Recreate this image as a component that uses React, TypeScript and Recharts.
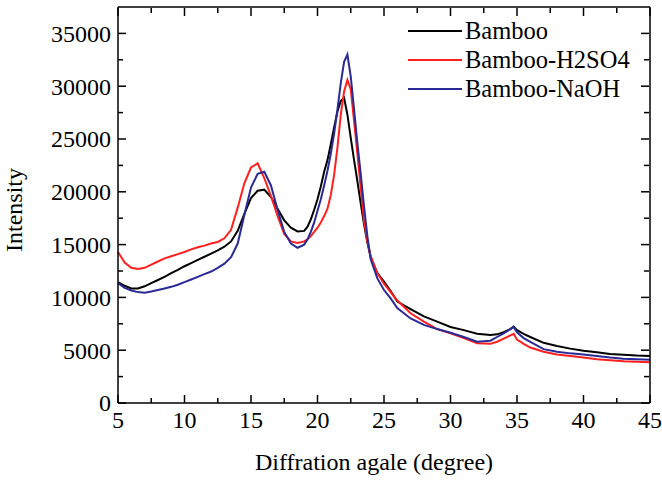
import React from "react";
import {
  LineChart,
  Line,
  XAxis,
  YAxis,
} from "recharts";

// diffraction angle (degree)
const angles = [
  5, 5.5, 6, 6.5, 7, 7.5, 8, 8.5, 9, 9.5, 10, 10.5, 11, 11.5, 12, 12.5, 13, 13.5,
  14, 14.5, 15, 15.5, 16, 16.5, 17, 17.5, 18, 18.5, 19, 19.25, 19.5, 19.75, 20,
  20.25, 20.5, 20.75, 21, 21.25, 21.5, 21.75, 22, 22.25, 22.5, 22.75, 23, 23.25,
  23.5, 23.75, 24, 24.5, 25, 25.5, 26, 27, 28, 29, 30, 31, 32, 33, 33.5, 34, 34.5,
  34.75, 35, 35.5, 36, 37, 38, 39, 40, 41, 42, 43, 44, 45,
];

const bamboo = [
  11440, 11100, 10850, 10850, 11050, 11350, 11650, 11950, 12300, 12600, 12950,
  13250, 13550, 13850, 14150, 14450, 14800, 15300, 16300, 17900, 19400, 20100,
  20200, 19500, 18400, 17300, 16600, 16250, 16300, 16700, 17400, 18300, 19300,
  20500, 21900, 23000, 24500, 26100, 27600, 28600, 28900, 27300, 25100, 23000,
  21000, 18900, 16900, 15200, 13800, 12300, 11500, 10600, 9600, 8900, 8200, 7700,
  7200, 6900, 6550, 6450, 6500, 6700, 7000, 7230, 6900, 6550, 6250, 5700, 5400,
  5150, 4950, 4800, 4650, 4580, 4500, 4450,
];

const bambooH2SO4 = [
  14300, 13300, 12800, 12700, 12800, 13100, 13400, 13700, 13900, 14100, 14300,
  14550, 14750, 14900, 15100, 15250, 15600, 16400, 18500, 20800, 22300, 22700,
  21300, 19600, 17700, 16000, 15300, 15150, 15300, 15500, 15800, 16200, 16600,
  17100, 17700, 18400, 19700, 21600, 24200, 27300, 29500, 30600, 29700, 26700,
  23600, 20400, 17200, 15300, 13900, 12300, 11300, 10500, 9700, 8500, 7700, 7000,
  6600, 6150, 5650, 5600, 5800, 6100, 6400, 6550, 6000, 5600, 5250, 4850, 4600,
  4450, 4300, 4150, 4050, 3950, 3900, 3850,
];

const bambooNaOH = [
  11350, 10900, 10650, 10500, 10450, 10550, 10700, 10850, 11000, 11200, 11450,
  11700, 11950, 12200, 12450, 12800, 13200, 13800, 15100, 17800, 20400, 21700,
  21900, 20600, 18300, 16200, 15100, 14700, 15000, 15500, 16200, 17100, 18200,
  19300, 20600, 22000, 23600, 25500, 27800, 30300, 32300, 33000, 30900, 27800,
  24600, 21700, 18600, 15800, 13600, 11800, 10700, 9900, 9000, 8000, 7400, 7000,
  6650, 6250, 5800, 5900, 6250, 6600, 7000, 7200, 6700, 6150, 5800, 5100, 4850,
  4700, 4600, 4450, 4300, 4200, 4150, 4100,
];

const xTicks = [5, 7.5, 10, 12.5, 15, 17.5, 20, 22.5, 25, 27.5, 30, 32.5, 35, 37.5, 40, 42.5, 45];
const yTicks = [
  0, 2500, 5000, 7500, 10000, 12500, 15000, 17500, 20000, 22500, 25000, 27500,
  30000, 32500, 35000,
];

const seriesNames = ["Bamboo", "Bamboo-H2SO4", "Bamboo-NaOH"];
const seriesColors = ["#000000", "#ff1f1f", "#2a2a96"];

const data = angles.map((a, i) => ({
  angle: a,
  bamboo: bamboo[i],
  h2so4: bambooH2SO4[i],
  naoh: bambooNaOH[i],
}));

const FONT = "Liberation Serif, Times New Roman, serif";
const MARGIN = 7;

const BottomTick = (props: any) => {
  const { x, y, payload } = props;
  const major = payload.value % 5 === 0;
  const base = y - MARGIN;
  return (
    <g>
      <line x1={x} x2={x} y1={base} y2={base - (major ? 8 : 5)} stroke="#000" strokeWidth={1.5} />
      {major && (
        <text x={x} y={y} dy="0.75em" textAnchor="middle" fontFamily={FONT} fontSize={24} fill="#000">
          {payload.value}
        </text>
      )}
    </g>
  );
};

// frame ticks (top / right) point into the plot
const TopTick = (props: any) => {
  const { x, y, payload } = props;
  const major = payload.value % 5 === 0;
  return <line x1={x} x2={x} y1={y + 1} y2={y + 1 + (major ? 8 : 5)} stroke="#000" strokeWidth={1.5} />;
};

const LeftTick = (props: any) => {
  const { x, y, payload } = props;
  const major = payload.value % 5000 === 0;
  const base = x + MARGIN;
  return (
    <g>
      <line x1={base} x2={base + (major ? 8 : 5)} y1={y} y2={y} stroke="#000" strokeWidth={1.5} />
      {major && (
        <text x={x} y={y} dy="0.35em" textAnchor="end" fontFamily={FONT} fontSize={24} fill="#000">
          {payload.value}
        </text>
      )}
    </g>
  );
};

const RightTick = (props: any) => {
  const { x, y, payload } = props;
  const major = payload.value % 5000 === 0;
  return <line x1={x - 1} x2={x - 1 - (major ? 8 : 5)} y1={y} y2={y} stroke="#000" strokeWidth={1.5} />;
};

const LegendBox = () => (
  <div
    style={{
      position: "absolute",
      left: 408,
      top: 16,
      fontFamily: FONT,
      fontSize: 24.5,
      lineHeight: "29px",
      color: "#000",
    }}
  >
    {seriesNames.map((name, i) => (
      <div key={name} style={{ display: "flex", alignItems: "center", whiteSpace: "nowrap" }}>
        <span style={{ display: "inline-block", width: 54, height: 2, background: seriesColors[i], marginRight: 3 }} />
        <span>{name}</span>
      </div>
    ))}
  </div>
);

export default function App() {
  return (
    <div style={{ position: "absolute", left: 0, top: 0, width: 662, height: 481, background: "#fff" }}>
      <LineChart width={662} height={481} data={data} margin={{ top: 6, right: 11, left: 0, bottom: 0 }}>
        <XAxis
          xAxisId="top"
          orientation="top"
          dataKey="angle"
          type="number"
          domain={[5, 45]}
          ticks={xTicks}
          interval={0}
          height={1}
          tickSize={0}
          tickMargin={0}
          tick={<TopTick />}
          axisLine={{ stroke: "#000", strokeWidth: 1.5 }}
        />
        <XAxis
          dataKey="angle"
          type="number"
          domain={[5, 45]}
          ticks={xTicks}
          interval={0}
          height={78}
          tickSize={0}
          tickMargin={MARGIN}
          tick={<BottomTick />}
          axisLine={{ stroke: "#000", strokeWidth: 1.5 }}
          label={{
            content: (p: any) => (
              <text
                x={p.viewBox.x + p.viewBox.width / 2 - 10}
                y={p.viewBox.y + 67}
                textAnchor="middle"
                fontFamily={FONT}
                fontSize={24}
                fill="#000"
              >
                Diffration agale (degree)
              </text>
            ),
          }}
        />
        <YAxis
          type="number"
          domain={[0, 37500]}
          ticks={yTicks}
          interval={0}
          width={118}
          tickSize={0}
          tickMargin={MARGIN}
          tick={<LeftTick />}
          axisLine={{ stroke: "#000", strokeWidth: 1.5 }}
          label={{
            content: (p: any) => {
              const cx = p.viewBox.x + 22;
              const cy = p.viewBox.y + p.viewBox.height / 2 + 5;
              return (
                <text
                  x={cx}
                  y={cy}
                  transform={`rotate(-90 ${cx} ${cy})`}
                  textAnchor="middle"
                  fontFamily={FONT}
                  fontSize={24}
                  fill="#000"
                >
                  Intensity
                </text>
              );
            },
          }}
        />
        <YAxis
          yAxisId="right"
          orientation="right"
          type="number"
          domain={[0, 37500]}
          ticks={yTicks}
          interval={0}
          width={1}
          tickSize={0}
          tickMargin={0}
          tick={<RightTick />}
          axisLine={{ stroke: "#000", strokeWidth: 1.5 }}
        />
        <Line dataKey="bamboo" name={seriesNames[0]} stroke={seriesColors[0]} strokeWidth={2} dot={false} isAnimationActive={false} type="linear" />
        {/* same domains on both axis pairs, so this series also gives the frame axes their data */}
        <Line xAxisId="top" yAxisId="right" dataKey="h2so4" name={seriesNames[1]} stroke={seriesColors[1]} strokeWidth={2} dot={false} isAnimationActive={false} type="linear" />
        <Line dataKey="naoh" name={seriesNames[2]} stroke={seriesColors[2]} strokeWidth={2} dot={false} isAnimationActive={false} type="linear" />
      </LineChart>
      <LegendBox />
    </div>
  );
}
